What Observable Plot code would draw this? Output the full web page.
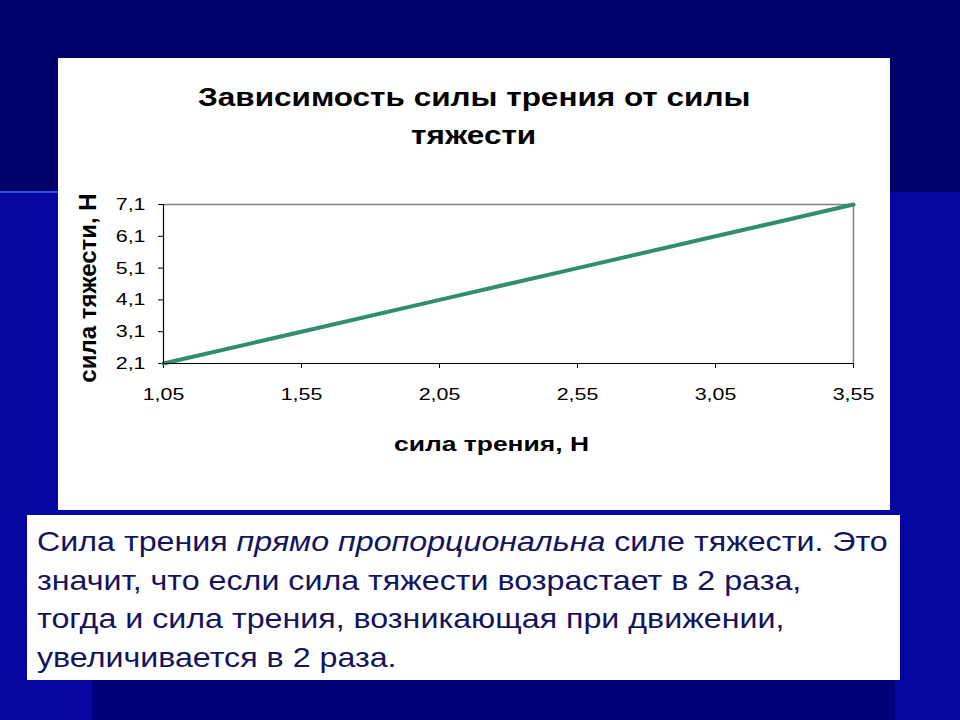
<!DOCTYPE html>
<html>
<head>
<meta charset="utf-8">
<script src="https://cdn.jsdelivr.net/npm/d3@7"></script>
<script src="https://cdn.jsdelivr.net/npm/@observablehq/plot@0.6"></script>
<style>
  html, body { margin: 0; padding: 0; }
  body { width: 960px; height: 720px; position: relative; overflow: hidden; background: #00006a; font-family: "Liberation Sans", Arial, sans-serif; }
  .bg { position: absolute; }
  #panel { position: absolute; left: 58px; top: 58px; width: 832px; height: 452px; background: #fff; }
  #title { position: absolute; left: 0; top: 20px; width: 832px; text-align: center; font-weight: bold; font-size: 25px; line-height: 38px; color: #000; }
  #title span { display: inline-block; transform: scaleX(1.26); transform-origin: center; }
  #chart { position: absolute; left: 0; top: 110px; }
  #chart svg { overflow: visible; }
  #note { position: absolute; left: 27px; top: 515px; width: 873px; height: 165px; background: #fff; box-sizing: border-box; padding: 8px 0 0 10px; overflow: hidden; }
  #note .inner { width: 740px; transform: scaleX(1.15); transform-origin: left top; font-size: 28px; line-height: 38.5px; color: #14145c; white-space: nowrap; }
</style>
</head>
<body>
<div class="bg" style="left:0;top:192px;width:960px;height:528px;background:#0606a0;"></div>
<div class="bg" style="left:92px;top:680px;width:803px;height:40px;background:#00007a;"></div>
<div class="bg" style="left:0;top:191px;width:58px;height:2px;background:#3a4be0;"></div>
<div id="panel">
  <div id="title"><span>Зависимость силы трения от силы</span><br><span>тяжести</span></div>
  <div id="chart"></div>
</div>
<div id="note"><div class="inner">Сила трения <i>прямо пропорциональна</i> силе тяжести. Это<br>значит, что если сила тяжести возрастает в 2 раза,<br>тогда и сила трения, возникающая при движении,<br>увеличивается в 2 раза.</div></div>
<script>
const friction = [1.05, 1.55, 2.05, 2.55, 3.05, 3.55];
const gravity = [2.1, 3.1, 4.1, 5.1, 6.1, 7.1];
const xTicks = [1.05, 1.55, 2.05, 2.55, 3.05, 3.55];
const yTicks = [2.1, 3.1, 4.1, 5.1, 6.1, 7.1];
const xLabel = "сила трения, Н";
const yLabel = "сила тяжести, Н";

const data = friction.map((f, i) => ({f, g: gravity[i]}));
const fmt1 = d => d.toFixed(1).replace(".", ",");
const fmt2 = d => d.toFixed(2).replace(".", ",");

const chart = Plot.plot({
  width: 832,
  height: 342,
  marginLeft: 105,
  marginRight: 37,
  marginTop: 36,
  marginBottom: 147,
  style: { fontFamily: "'Liberation Sans', Arial, sans-serif", fontSize: "17px", color: "#000", background: "transparent" },
  x: { domain: [1.05, 3.55] },
  y: { domain: [2.1, 7.1] },
  marks: [
    Plot.ruleY([7.1], { stroke: "#808080", strokeWidth: 1.5 }),
    Plot.ruleX([3.55], { stroke: "#808080", strokeWidth: 1.5 }),
    Plot.axisX({ ticks: xTicks, tickFormat: fmt2, tickSize: 5, tickPadding: 19, label: null, stroke: "#000", fontSize: 17 }),
    Plot.axisY({ ticks: yTicks, tickFormat: fmt1, tickSize: 5, tickPadding: 13, label: null, stroke: "#000", fontSize: 17 }),
    Plot.line(data, { x: "f", y: "g", stroke: "#2f8f6b", strokeWidth: 4 }),
    Plot.ruleY([2.1], { stroke: "#000", strokeWidth: 1.2 }),
    Plot.ruleX([1.05], { stroke: "#000", strokeWidth: 1.2 }),
    Plot.text([xLabel], { text: d => d, frameAnchor: "bottom", dy: 87, dx: -17, fontSize: 21, fontWeight: "bold", fill: "#000" }),
    Plot.text([yLabel], { text: d => d, frameAnchor: "left", textAnchor: "middle", lineAnchor: "middle", dx: -75, dy: 4, rotate: -90, fontSize: 24, fontWeight: "bold", fill: "#000" })
  ]
});
// the reference picture is stretched horizontally; widen the horizontal texts the same way
const S = 1.26;
chart.querySelectorAll("text").forEach(t => {
  if (t.textContent === yLabel) return;
  const x = parseFloat(t.getAttribute("x")) || 0;
  const tr = t.getAttribute("transform") || "";
  t.setAttribute("transform", `${tr} translate(${x},0) scale(${S},1) translate(${-x},0)`);
});
document.getElementById("chart").appendChild(chart);
</script>
</body>
</html>
